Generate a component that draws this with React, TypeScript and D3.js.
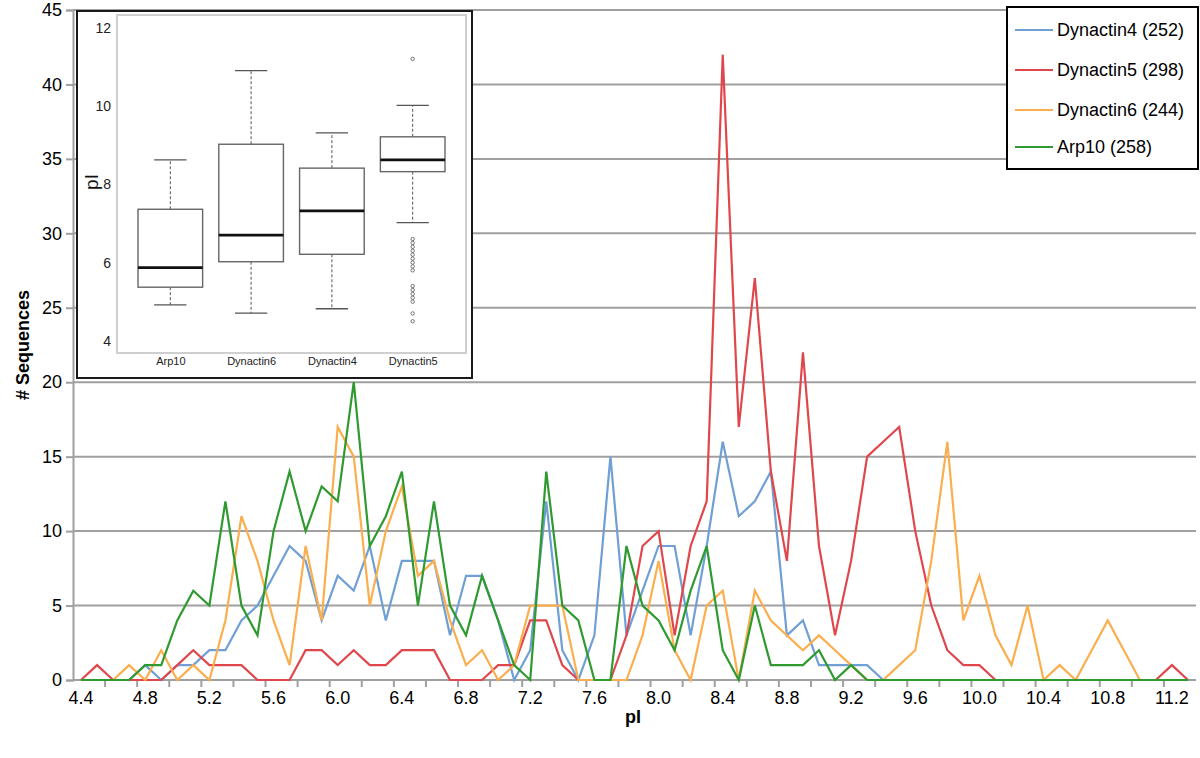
import React, { useEffect, useRef } from 'react';
import * as d3 from 'd3';

const width = 1200;
const height = 758;
const margin = { top: 10, right: 4, bottom: 78, left: 73 };
const font = '"Liberation Sans", Arial, Helvetica, sans-serif';
const gridGrey = '#a0a0a0';

const blue = '#6f9fd4';
const red = '#e0474c';
const orange = '#fbae4e';
const green = '#2f9a2f';

// pI bins
const categories = [
  '4.4', '4.5', '4.6', '4.7', '4.8', '4.9', '5.0', '5.1', '5.2', '5.3',
  '5.4', '5.5', '5.6', '5.7', '5.8', '5.9', '6.0', '6.1', '6.2', '6.3',
  '6.4', '6.5', '6.6', '6.7', '6.8', '6.9', '7.0', '7.1', '7.2', '7.3',
  '7.4', '7.5', '7.6', '7.7', '7.8', '7.9', '8.0', '8.1', '8.2', '8.3',
  '8.4', '8.5', '8.6', '8.7', '8.8', '8.9', '9.0', '9.1', '9.2', '9.3',
  '9.4', '9.5', '9.6', '9.7', '9.8', '9.9', '10.0', '10.1', '10.2', '10.3',
  '10.4', '10.5', '10.6', '10.7', '10.8', '10.9', '11.0', '11.1', '11.2', '11.3',
];
const xTickLabels = [
  '4.4', '4.8', '5.2', '5.6', '6.0', '6.4', '6.8', '7.2', '7.6', '8.0',
  '8.4', '8.8', '9.2', '9.6', '10.0', '10.4', '10.8', '11.2',
];
const yTicks = [0, 5, 10, 15, 20, 25, 30, 35, 40, 45];

// # sequences per bin
const dynactin4 = [
  0, 0, 0, 0, 1, 0, 1, 1, 2, 2, 4, 5, 7, 9, 8, 4, 7, 6, 9, 4,
  8, 8, 8, 3, 7, 7, 4, 0, 2, 12, 2, 0, 3, 15, 3, 6, 9, 9, 3, 9,
  16, 11, 12, 14, 3, 4, 1, 1, 1, 1, 0, 0, 0, 0, 0, 0, 0, 0, 0, 0,
  0, 0, 0, 0, 0, 0, 0, 0, 0, 0,
];
const dynactin5 = [
  0, 1, 0, 0, 0, 0, 1, 2, 1, 1, 1, 0, 0, 0, 2, 2, 1, 2, 1, 1,
  2, 2, 2, 0, 0, 0, 1, 1, 4, 4, 1, 0, 0, 0, 3, 9, 10, 3, 9, 12,
  42, 17, 27, 14, 8, 22, 9, 3, 8, 15, 16, 17, 10, 5, 2, 1, 1, 0, 0, 0,
  0, 0, 0, 0, 0, 0, 0, 0, 1, 0,
];
const dynactin6 = [
  0, 0, 0, 1, 0, 2, 0, 1, 0, 4, 11, 8, 4, 1, 9, 4, 17, 15, 5, 10,
  13, 7, 8, 4, 1, 2, 0, 1, 5, 5, 5, 0, 0, 0, 0, 3, 8, 2, 0, 5,
  6, 0, 6, 4, 3, 2, 3, 2, 1, 0, 0, 1, 2, 8, 16, 4, 7, 3, 1, 5,
  0, 1, 0, 2, 4, 2, 0, 0, 0, 0,
];
const arp10 = [
  0, 0, 0, 0, 1, 1, 4, 6, 5, 12, 5, 3, 10, 14, 10, 13, 12, 20, 9, 11,
  14, 5, 12, 5, 3, 7, 4, 1, 0, 14, 5, 4, 0, 0, 9, 5, 4, 2, 6, 9,
  2, 0, 5, 1, 1, 1, 2, 0, 1, 0, 0, 0, 0, 0, 0, 0, 0, 0, 0, 0,
  0, 0, 0, 0, 0, 0, 0, 0, 0, 0,
];

const seriesValues = [dynactin4, dynactin5, dynactin6, arp10];
const seriesColors = [blue, red, orange, green];
const legendLabels = ['Dynactin4 (252)', 'Dynactin5 (298)', 'Dynactin6 (244)', 'Arp10 (258)'];

// inset boxplot
const boxNames = ['Arp10', 'Dynactin6', 'Dynactin4', 'Dynactin5'];
const boxLow = [4.92, 4.71, 4.82, 7.02];
const boxQ1 = [5.37, 6.02, 6.21, 8.32];
const boxMedian = [5.87, 6.7, 7.32, 8.62];
const boxQ3 = [7.36, 9.02, 8.41, 9.21];
const boxHigh = [8.62, 10.9, 9.31, 10.01];
const dynactin5Outliers = [11.2, 6.6, 6.5, 6.4, 6.3, 6.2, 6.1, 6.0, 5.9, 5.8, 5.4, 5.3, 5.2, 5.1, 5.0, 4.7, 4.5];
const insetTicks = [4, 6, 8, 10, 12];

const inset = { x: 77, y: 11, w: 395, h: 367, fx: 117, fy: 15, fw: 349, fh: 338 };

function App() {
  const xAxisRef = useRef<SVGGElement>(null);
  const yAxisRef = useRef<SVGGElement>(null);
  const insetYRef = useRef<SVGGElement>(null);
  const insetXRef = useRef<SVGGElement>(null);

  const x = d3.scaleBand().domain(categories).range([margin.left, width - margin.right]);
  const y = d3.scaleLinear().domain([0, 45]).range([height - margin.bottom, margin.top]);
  const bw = x.bandwidth();

  const bx = d3.scalePoint().domain(boxNames).range([inset.fx, inset.fx + inset.fw]).padding(0.66);
  const by = d3.scaleLinear().domain([3.69, 12.32]).range([inset.fy + inset.fh, inset.fy]);
  const boxW = bx.step() * 0.8;
  const capW = bx.step() * 0.4;

  const line = d3.line<number>()
    .x((d, i) => (x(categories[i]) as number) + bw / 2)
    .y(d => y(d));

  useEffect(() => {
    d3.select(yAxisRef.current)
      .call(d3.axisLeft(y).tickValues(yTicks).tickSize(7).tickPadding(4) as any)
      .call(g => g.select('.domain').attr('stroke', gridGrey).attr('stroke-width', 2))
      .call(g => g.selectAll('.tick line').attr('stroke', gridGrey).attr('stroke-width', 2))
      .call(g => g.selectAll('text').attr('font-size', 18).attr('font-family', font).attr('fill', '#000'));

    d3.select(xAxisRef.current)
      .call(d3.axisBottom(x).tickValues(xTickLabels).tickSize(0).tickPadding(11) as any)
      .call(g => g.select('.domain').remove())
      .call(g => g.selectAll('text').attr('font-size', 18).attr('font-family', font).attr('fill', '#000'));

    d3.select(insetYRef.current)
      .call(d3.axisLeft(by).tickValues(insetTicks).tickSize(0).tickPadding(5) as any)
      .call(g => g.select('.domain').remove())
      .call(g => g.selectAll('text').attr('font-size', 14).attr('font-family', font).attr('fill', '#222'));

    d3.select(insetXRef.current)
      .call(d3.axisBottom(bx).tickSize(0).tickPadding(3) as any)
      .call(g => g.select('.domain').remove())
      .call(g => g.selectAll('text').attr('font-size', 11).attr('font-family', font).attr('fill', '#222'));
  }, []);

  const plotRight = width - margin.right;
  const edgeTicks = categories.filter((c, i) => i % 2 === 0 && i > 0).map(c => x(c) as number);

  return (
    <div style={{ position: 'absolute', left: 0, top: 0 }}>
      <svg width={width} height={height} style={{ display: 'block', background: '#fff' }}>
        {/* grid */}
        {yTicks.filter(t => t > 0).map(t => (
          <line key={t} x1={margin.left} x2={plotRight} y1={y(t)} y2={y(t)} stroke={gridGrey} strokeWidth={2} />
        ))}
        <line x1={margin.left} x2={plotRight} y1={y(0)} y2={y(0)} stroke={gridGrey} strokeWidth={2} />
        {edgeTicks.map((t, i) => (
          <line key={i} x1={t} x2={t} y1={y(0)} y2={y(0) + 7} stroke={gridGrey} strokeWidth={2} />
        ))}
        <g ref={yAxisRef} transform={`translate(${margin.left},0)`} />
        <g ref={xAxisRef} transform={`translate(0,${y(0)})`} />

        {/* series */}
        {seriesValues.map((vals, i) => (
          <path key={i} d={line(vals) || ''} fill="none" stroke={seriesColors[i]} strokeWidth={2.2} strokeLinejoin="miter" />
        ))}

        {/* axis titles */}
        <text transform="translate(29,345) rotate(-90)" textAnchor="middle" fontFamily={font} fontWeight="bold" fontSize={18}># Sequences</text>
        <text x={633} y={723} textAnchor="middle" fontFamily={font} fontWeight="bold" fontSize={18}>pI</text>

        {/* inset boxplot */}
        <rect x={inset.x} y={inset.y} width={inset.w} height={inset.h} fill="#fff" stroke="#1a1a1a" strokeWidth={2} />
        <rect x={inset.fx} y={inset.fy} width={inset.fw} height={inset.fh} fill="none" stroke="#cfcfcf" strokeWidth={2} />
        {boxNames.map((n, i) => {
          const cx = bx(n) as number;
          return (
            <g key={n}>
              <line x1={cx} x2={cx} y1={by(boxQ3[i])} y2={by(boxHigh[i])} stroke="#555" strokeWidth={1} strokeDasharray="3,2" />
              <line x1={cx} x2={cx} y1={by(boxQ1[i])} y2={by(boxLow[i])} stroke="#555" strokeWidth={1} strokeDasharray="3,2" />
              <line x1={cx - capW / 2} x2={cx + capW / 2} y1={by(boxHigh[i])} y2={by(boxHigh[i])} stroke="#555" strokeWidth={1.3} />
              <line x1={cx - capW / 2} x2={cx + capW / 2} y1={by(boxLow[i])} y2={by(boxLow[i])} stroke="#555" strokeWidth={1.3} />
              <rect x={cx - boxW / 2} y={by(boxQ3[i])} width={boxW} height={by(boxQ1[i]) - by(boxQ3[i])} fill="#fff" stroke="#666" strokeWidth={1.4} />
              <line x1={cx - boxW / 2} x2={cx + boxW / 2} y1={by(boxMedian[i])} y2={by(boxMedian[i])} stroke="#111" strokeWidth={2.6} />
            </g>
          );
        })}
        {dynactin5Outliers.map((v, i) => (
          <circle key={i} cx={bx('Dynactin5') as number} cy={by(v)} r={1.7} fill="none" stroke="#555" strokeWidth={0.8} />
        ))}
        <g ref={insetYRef} transform={`translate(${inset.fx - 1},0)`} />
        <g ref={insetXRef} transform={`translate(0,${inset.fy + inset.fh + 1})`} />
        <text transform="translate(98,182) rotate(-90)" textAnchor="middle" fontFamily={font} fontSize={19} fill="#111">pI</text>

        {/* legend */}
        <rect x={1007} y={7} width={191} height={162} fill="#fff" stroke="#000" strokeWidth={2} />
        {legendLabels.map((l, i) => {
          const ly = [30, 70, 110, 147][i];
          return (
            <g key={l}>
              <line x1={1015} x2={1053} y1={ly} y2={ly} stroke={seriesColors[i]} strokeWidth={2} />
              <text x={1057} y={ly + 6} fontFamily={font} fontSize={18} fill="#000">{l}</text>
            </g>
          );
        })}
      </svg>
    </div>
  );
}

export default App;
